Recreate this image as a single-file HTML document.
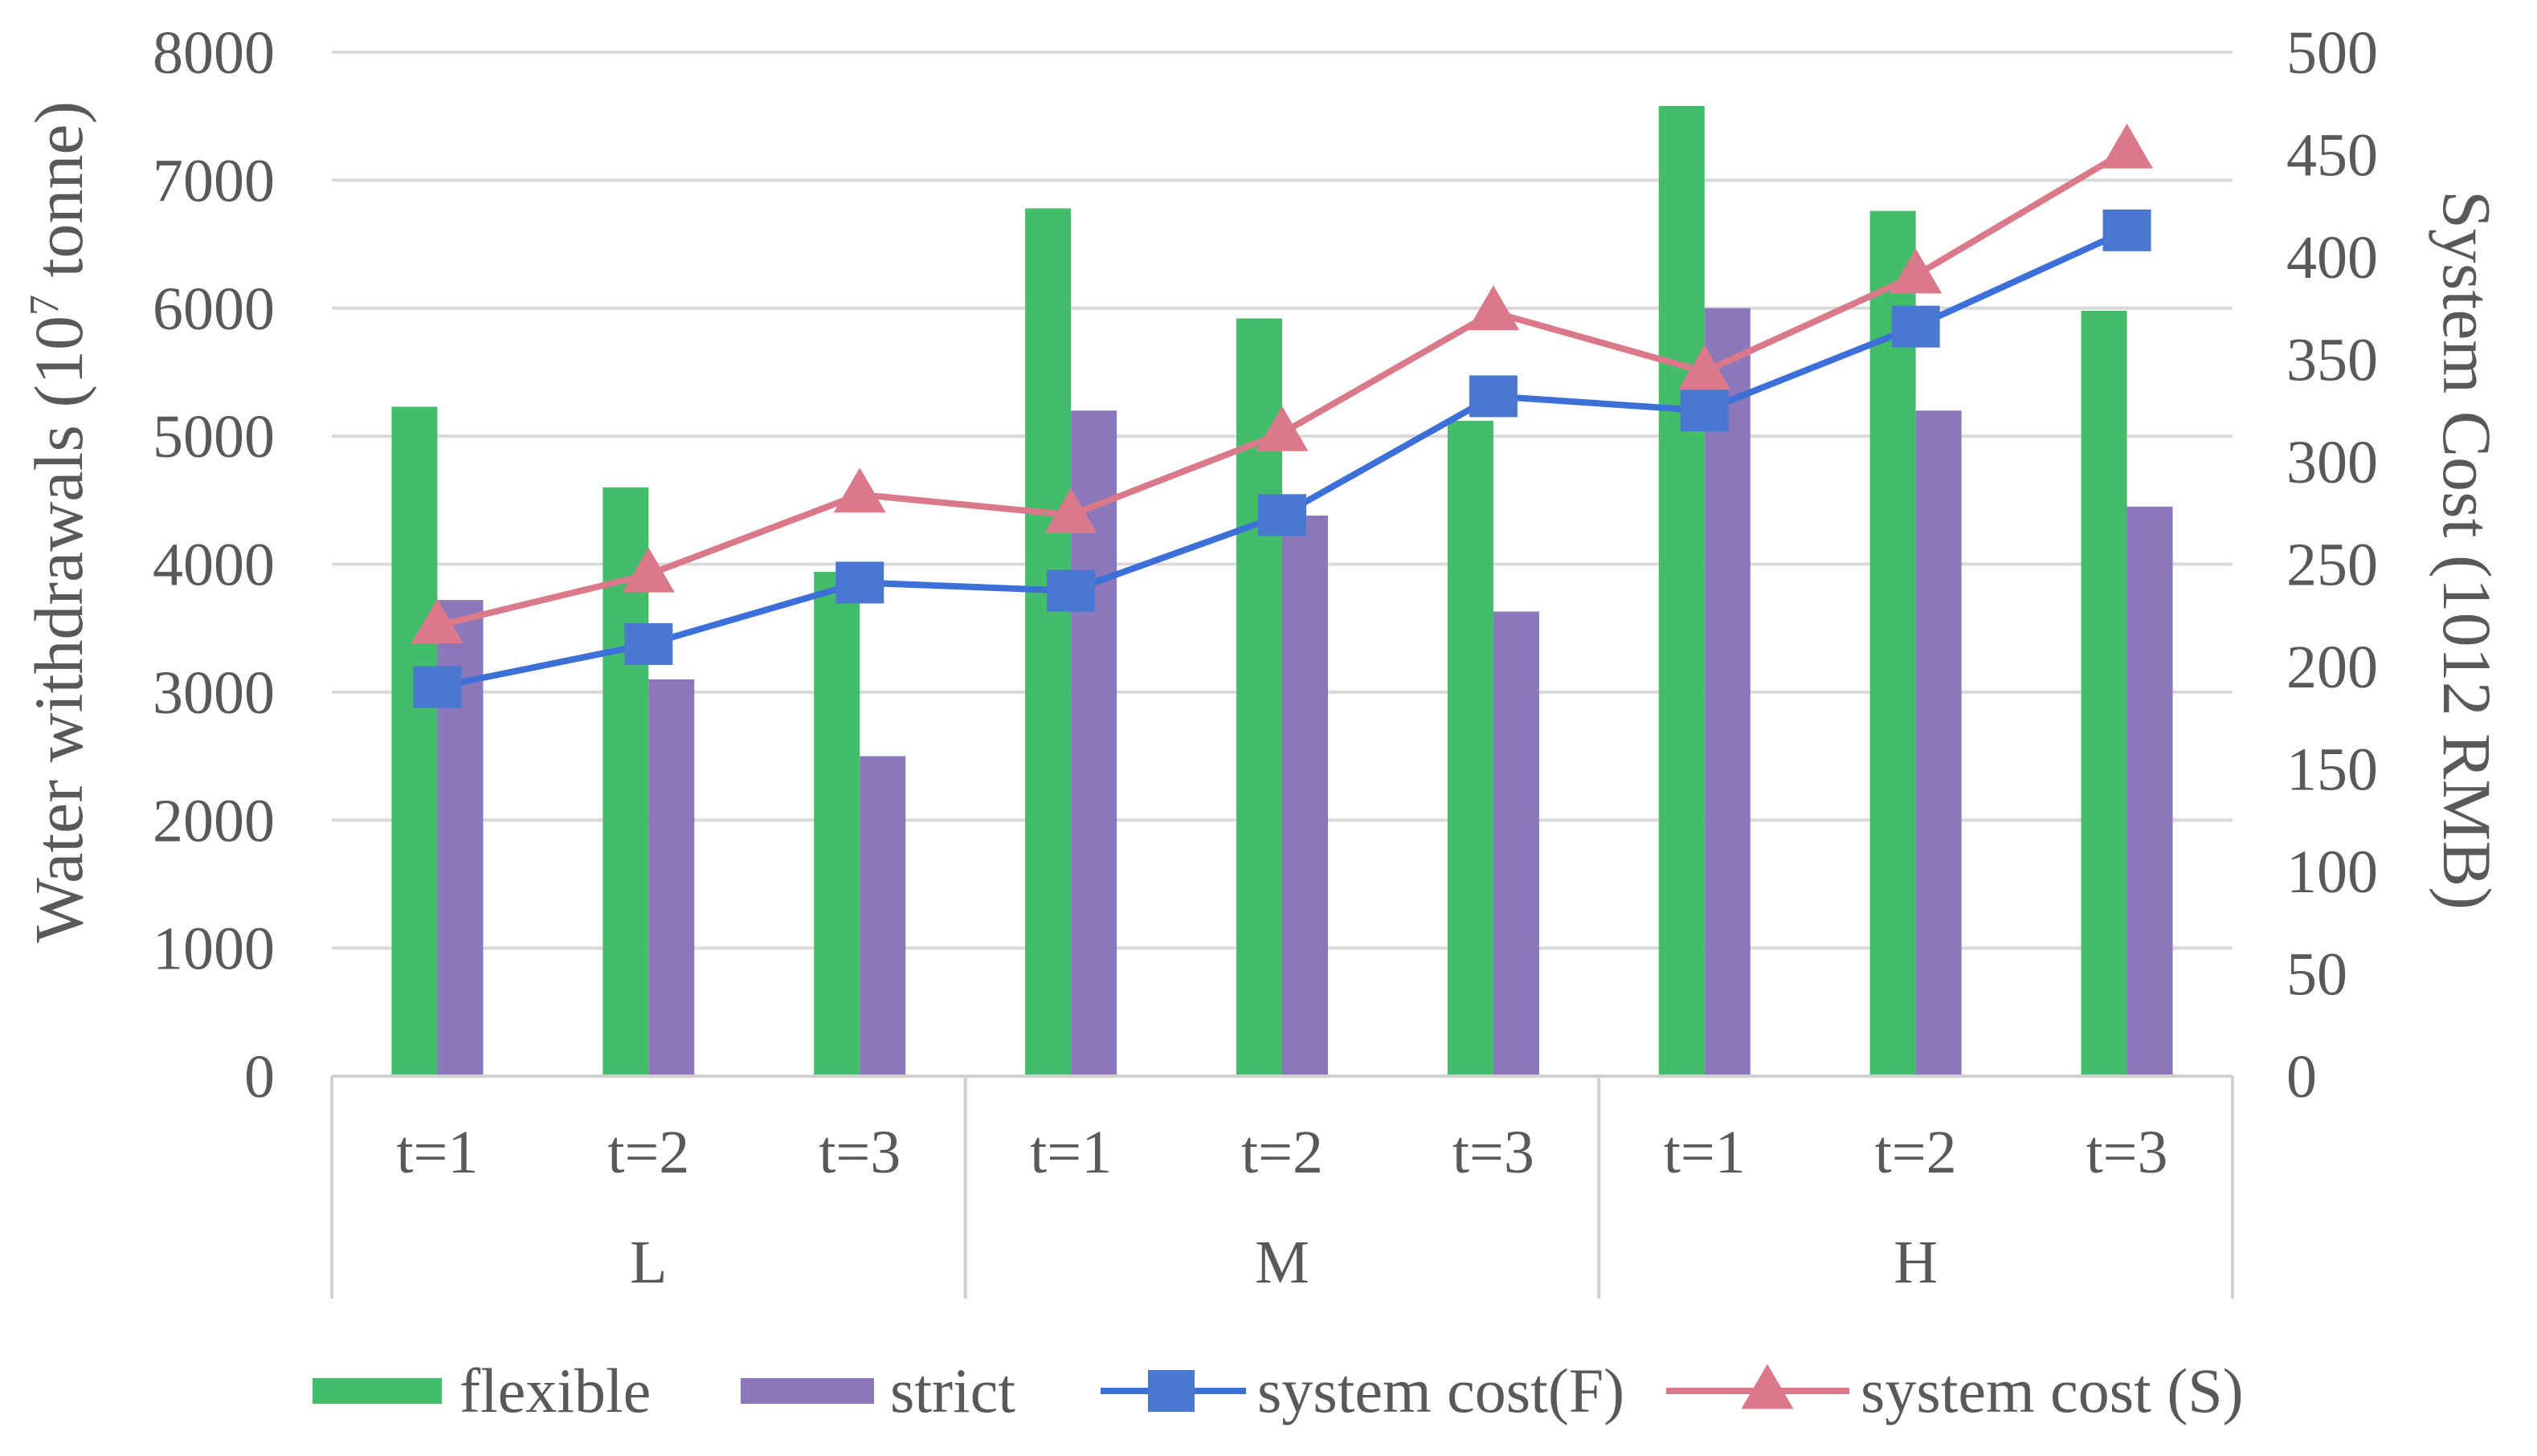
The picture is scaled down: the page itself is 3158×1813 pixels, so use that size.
<!DOCTYPE html>
<html><head><meta charset="utf-8"><style>
html,body{margin:0;padding:0;background:#fff}
svg{display:block}
text{font-family:"Liberation Serif",serif;fill:#595959}
</style></head><body>
<svg id="chart" width="3158" height="1813" viewBox="0 0 3158 1813" xmlns="http://www.w3.org/2000/svg"></svg>
<script>
const groups = ["L","M","H"];
const periods = ["t=1","t=2","t=3"];
const flexible = [5230,4600,3940,6780,5920,5120,7580,6760,5980];
const strict = [3720,3100,2500,5200,4380,3630,6000,5200,4450];
const costF = [190,211,241,237,274,332,325,366,413];
const costS = [220,245,284,274,314,373,344,391,452];
const leftTicks = [0,1000,2000,3000,4000,5000,6000,7000,8000];
const rightTicks = [0,50,100,150,200,250,300,350,400,450,500];

const NS="http://www.w3.org/2000/svg";
const svg=document.getElementById('chart');
const X0=413,X1=2779,Y0=1340,Y1=65;
const n=flexible.length, slot=(X1-X0)/n, bw=57;
const yL=v=>Y0-(v/8000)*(Y0-Y1);
const yR=v=>Y0-(v/500)*(Y0-Y1);
const xc=i=>X0+slot*(i+0.5);
function mk(tag,attrs,parent){const e=document.createElementNS(NS,tag);for(const k in attrs)e.setAttribute(k,attrs[k]);(parent||svg).appendChild(e);return e;}
function txt(s,attrs){const e=mk('text',attrs);e.textContent=s;return e;}

leftTicks.forEach(v=>{
  const g=mk('line',{x1:X0,x2:X1,y1:yL(v),y2:yL(v),stroke:'#d9d9d9','stroke-width':4});
  
  
  const t=txt(String(v),{x:342,y:yL(v)+26,'text-anchor':'end','font-size':76});
  
  
});
rightTicks.forEach(v=>{
  const t=txt(String(v),{x:2846,y:yR(v)+26,'text-anchor':'start','font-size':76});
  
  
});
[0,3,6,9].forEach(k=>{
  const l=mk('line',{x1:X0+slot*k,x2:X0+slot*k,y1:Y0,y2:1617,stroke:'#d0d0d0','stroke-width':4});
  
  
});
for(let i=0;i<n;i++){
  const t=txt(periods[i%3],{x:xc(i),y:1460,'text-anchor':'middle','font-size':76});
  
  
}
groups.forEach((g,k)=>{
  const t=txt(g,{x:X0+slot*(3*k+1.5),y:1597,'text-anchor':'middle','font-size':76});
  
  
});
for(let i=0;i<n;i++){
  const b=mk('rect',{x:xc(i)-bw,y:yL(flexible[i]),width:bw,height:Y0-yL(flexible[i]),fill:'#44bd6b'});
  
  
  const c=mk('rect',{x:xc(i),y:yL(strict[i]),width:bw,height:Y0-yL(strict[i]),fill:'#8b78bb'});
  
  
}
const ax=mk('line',{x1:X0,x2:X1,y1:Y0,y2:Y0,stroke:'#d0d0d0','stroke-width':4});


const pS=mk('polyline',{points:costS.map((v,i)=>xc(i)+','+yR(v)).join(' '),fill:'none',stroke:'#d9798a','stroke-width':8});


const pF=mk('polyline',{points:costF.map((v,i)=>xc(i)+','+yR(v)).join(' '),fill:'none',stroke:'#3d6fd8','stroke-width':8});


function tri(cx,cy,s){return (cx)+','+(cy-s*0.6)+' '+(cx-s*0.58)+','+(cy+s*0.4)+' '+(cx+s*0.58)+','+(cy+s*0.4);}
costS.forEach((v,i)=>{
  const m=mk('polygon',{points:tri(xc(i),yR(v),56),fill:'#d9798a'});
  
  
});
costF.forEach((v,i)=>{
  const m=mk('rect',{x:xc(i)-30,y:yR(v)-26,width:60,height:52,fill:'#4a78d0'});
  
  
});
const lt=mk('text',{transform:'translate(102,650) rotate(-90)','text-anchor':'middle','font-size':86});


lt.innerHTML='Water withdrawals (10<tspan dy="-30" font-size="52">7</tspan><tspan dy="30"> tonne)</tspan>';
const rt=txt('System Cost (1012 RMB)',{transform:'translate(3042,685) rotate(90)','text-anchor':'middle','font-size':86});


const LY=1732;
const s1=mk('rect',{x:389,y:LY-16,width:161,height:32,fill:'#44bd6b'});


const t1=txt('flexible',{x:572,y:LY+26,'font-size':78});


const s2=mk('rect',{x:922,y:LY-16,width:166,height:32,fill:'#8b78bb'});


const t2=txt('strict',{x:1108,y:LY+26,'font-size':78});


const l3=mk('line',{x1:1370,x2:1551,y1:LY,y2:LY,stroke:'#3d6fd8','stroke-width':8});


const m3=mk('rect',{x:1429,y:LY-26,width:58,height:52,fill:'#4a78d0'});


const t3=txt('system cost(F)',{x:1565,y:LY+26,'font-size':78});


const l4=mk('line',{x1:2074,x2:2302,y1:LY,y2:LY,stroke:'#d9798a','stroke-width':8});


const m4=mk('polygon',{points:tri(2200,LY,56),fill:'#d9798a'});


const t4=txt('system cost (S)',{x:2316,y:LY+26,'font-size':78});


</script>
</body></html>
